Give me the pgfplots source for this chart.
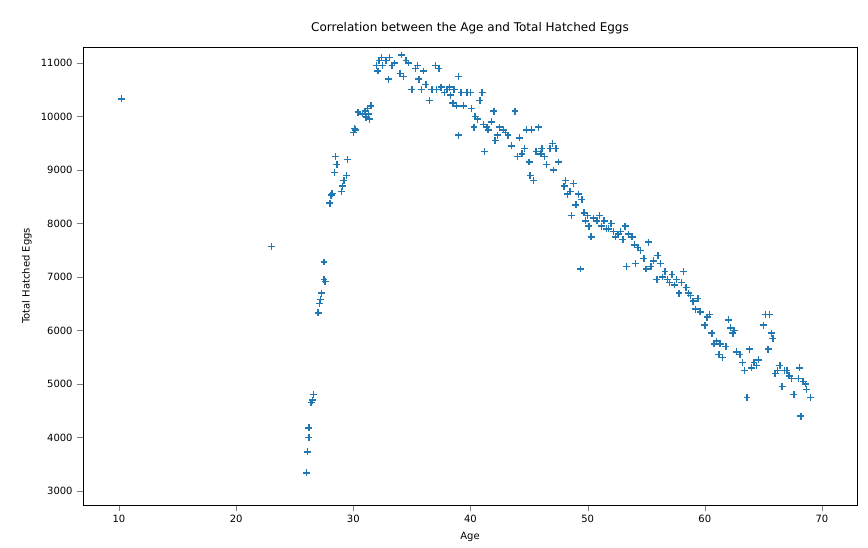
\documentclass[border=0pt]{standalone}
\usepackage{pgfplots}
\pgfplotsset{compat=1.18}
\usepackage{fontspec}
\setmainfont{DejaVu Sans}
\definecolor{mblue}{HTML}{1F77B4}
\begin{document}
\begin{tikzpicture}
\path[use as bounding box] (-62.25pt,-31.5pt) rectangle (588.75pt,378.75pt);
\begin{axis}[scale only axis, width=580.5pt, height=343.5pt,
 xmin=6.93, xmax=72.99, ymin=2738, ymax=11299,
 xtick={10,20,...,70}, ytick={3000,4000,...,11000},
 scaled y ticks=false,
 /pgf/number format/assume math mode=true,
 /pgf/number format/1000 sep={},
 tick label style={font=\fontsize{7.5}{9}\selectfont},
 label style={font=\fontsize{7.5}{9}\selectfont},
 title style={font=\fontsize{9}{11}\selectfont},
 title={Correlation between the Age and Total Hatched Eggs},
 xlabel={Age}, ylabel={Total Hatched Eggs},
 tick align=outside, tick pos=lower]
\addplot[only marks, mark=+, mark size=2.6pt, color=mblue, mark options={line width=1.1pt, solid}] coordinates {
(10.2,10330)(23,7570)
(26,3340)(26.1,3730)(26.2,4000)(26.2,4180)(26.4,4650)(26.5,4700)(26.6,4800)(27,6330)(27.1,6500)(27.2,6580)(27.3,6700)(27.5,6950)(27.6,6920)(27.5,7280)(28,8380)(28.1,8530)(28.2,8560)(28.4,8950)(28.5,9250)(28.6,9100)(29,8600)(29.1,8700)(29.2,8800)(29.4,8900)(29.5,9200)(30,9700)(30.1,9780)(30.2,9750)(30.4,10080)(30.8,10050)(31,10100)(31.1,9990)(31.2,10150)(31.3,10050)(31.5,10200)(31.4,9950)(32,10950)(32.1,10850)(32.2,11050)(32.4,11100)(32.5,10950)(32.8,11050)(33,10700)(33.1,11100)(33.3,10950)(33.5,11000)(34,10800)(34.1,11150)(34.3,10750)(34.5,11050)(34.7,11000)(35,10500)(35.3,10900)(35.5,10950)(35.6,10700)(35.8,10500)(36,10850)(36.2,10600)(36.5,10300)(36.7,10500)(37,10950)(37.1,10500)(37.3,10900)(37.5,10550)(37.8,10450)(38,10500)(38.2,10550)(38.3,10400)(38.5,10250)(38.6,10500)(38.8,10200)(39,10750)(39,9650)(39.2,10450)(39.4,10200)(39.7,10450)(40,10450)(40.1,10150)(40.3,9800)(40.4,10000)(40.6,9950)(40.8,10300)(41,10450)(41.1,9850)(41.2,9350)(41.4,9800)(41.5,9750)(41.8,9900)(42,10100)(42.1,9550)(42.3,9650)(42.5,9800)(42.8,9750)(43,9700)(43.2,9650)(43.5,9450)(43.8,10100)(44,9250)(44.2,9600)(44.4,9300)(44.6,9400)(44.8,9750)(45,9150)(45.1,8900)(45.2,9750)(45.4,8800)(45.6,9350)(45.8,9800)(46,9300)(46.1,9400)(46.3,9250)(46.5,9100)(46.8,9400)(47,9500)(47.1,9000)(47.3,9400)(47.5,9150)(48,8700)(48.1,8800)(48.3,8550)(48.5,8600)(48.6,8150)(48.8,8750)(49,8350)(49.2,8550)(49.4,7150)(49.5,8450)(49.7,8200)(49.8,8050)(50,8150)(50.1,7950)(50.3,7750)(50.5,8100)(50.8,8050)(51,8150)(51.2,7950)(51.4,8050)(51.6,7900)(51.8,7900)(52,8000)(52.2,7850)(52.4,7750)(52.6,7800)(52.8,7850)(53,7700)(53.2,7950)(53.3,7200)(53.5,7800)(53.8,7750)(54,7600)(54.1,7250)(54.3,7550)(54.5,7500)(54.8,7350)(55,7150)(55.2,7650)(55.4,7200)(55.6,7300)(55.9,6950)(56,7400)(56.2,7250)(56.4,7000)(56.6,7100)(56.8,6950)(57,6900)(57.2,7050)(57.4,6850)(57.6,6950)(57.8,6700)(58,6900)(58.2,7100)(58.4,6800)(58.6,6700)(58.8,6650)(59,6550)(59.2,6400)(59.4,6600)(59.6,6350)(60,6100)(60.2,6250)(60.4,6300)(60.6,5950)(60.8,5750)(61,5800)(61.2,5550)(61.3,5750)(61.5,5500)(61.8,5700)(62,6200)(62.2,6050)(62.4,5950)(62.5,6000)(62.7,5600)(63,5550)(63.2,5400)(63.4,5250)(63.6,4750)(63.8,5650)(64,5300)(64.2,5400)(64.4,5350)(64.6,5450)(65,6100)(65.2,6300)(65.4,5650)(65.5,6300)(65.7,5950)(65.8,5850)(66,5200)(66.2,5250)(66.4,5350)(66.6,4950)(66.8,5250)(67,5250)(67.2,5150)(67.4,5100)(67.6,4800)(68,5100)(68.1,5300)(68.2,4400)(68.4,5050)(68.6,5000)(68.7,4900)(69,4750)
};
\end{axis}
\end{tikzpicture}
\end{document}
